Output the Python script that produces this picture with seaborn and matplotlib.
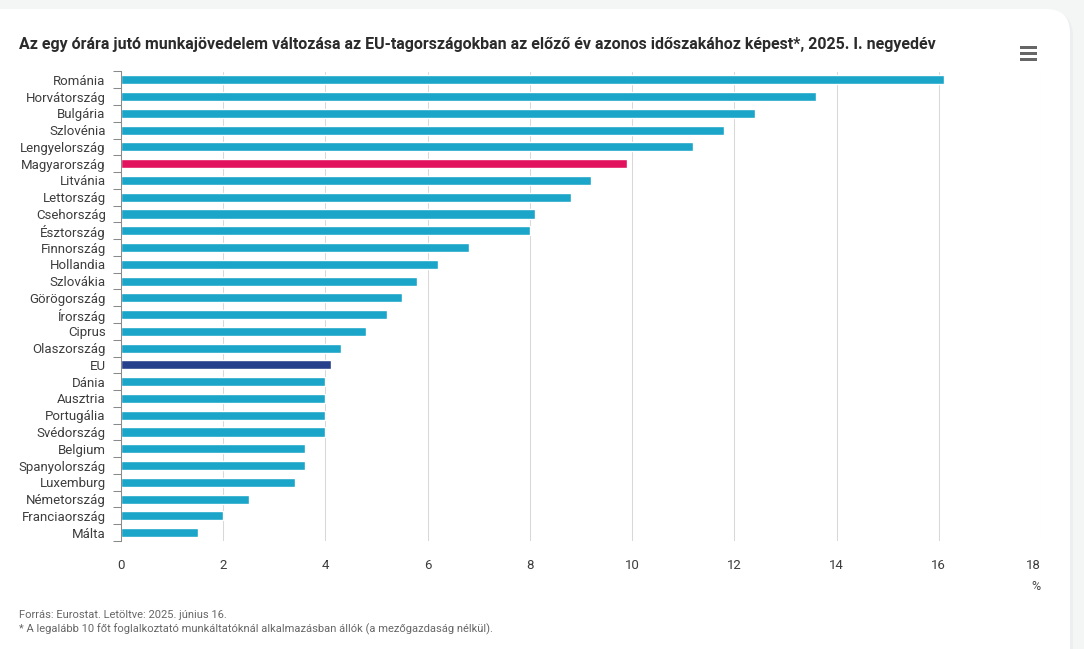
import matplotlib
matplotlib.use("Agg")
import matplotlib.pyplot as plt
import pandas as pd
import seaborn as sns
from matplotlib.patches import FancyBboxPatch, Rectangle

countries = ["Románia", "Horvátország", "Bulgária", "Szlovénia", "Lengyelország", "Magyarország", "Litvánia",
             "Lettország", "Csehország", "Észtország", "Finnország", "Hollandia", "Szlovákia", "Görögország",
             "Írország", "Ciprus", "Olaszország", "EU", "Dánia", "Ausztria", "Portugália", "Svédország",
             "Belgium", "Spanyolország", "Luxemburg", "Németország", "Franciaország", "Málta"]
values = [16.1, 13.6, 12.4, 11.8, 11.2, 9.9, 9.2, 8.8, 8.1, 8.0, 6.8, 6.2, 5.8, 5.5, 5.2, 4.8, 4.3, 4.1,
          4.0, 4.0, 4.0, 4.0, 3.6, 3.6, 3.4, 2.5, 2.0, 1.5]
x_ticks = [0, 2, 4, 6, 8, 10, 12, 14, 16, 18]

title = "Az egy órára jutó munkajövedelem változása az EU-tagországokban az előző év azonos időszakához képest*, 2025. I. negyedév"
source = "Forrás: Eurostat. Letöltve: 2025. június 16."
note = "* A legalább 10 főt foglalkoztató munkáltatóknál alkalmazásban állók (a mezőgazdaság nélkül)."

W, H = 1084, 649
sns.set_theme(style="white")
plt.rcParams["font.family"] = ["Roboto", "DejaVu Sans"]

df = pd.DataFrame({"country": countries, "value": values})
colors = {c: "#1aa5c9" for c in countries}
colors["Magyarország"] = "#e2125f"
colors["EU"] = "#27408b"

fig = plt.figure(figsize=(W / 100, H / 100), dpi=100, facecolor="#f4f5f5")

# background card, with a soft shadow on the right
bg = fig.add_axes([0, 0, 1, 1], zorder=0)
bg.set_xlim(0, W)
bg.set_ylim(H, 0)
bg.axis("off")
bg.add_patch(FancyBboxPatch((-60, 12), 1133, 720, boxstyle="round,pad=0,rounding_size=24", fc="#eceef0", ec="none"))
bg.add_patch(FancyBboxPatch((-60, 9), 1130, 720, boxstyle="round,pad=0,rounding_size=24", fc="white", ec="none"))
# menu icon
for y in (47, 53, 59):
    bg.add_patch(Rectangle((1020, y - 1.5), 17, 3, color="#666666", lw=0))

ax = fig.add_axes([121 / W, 1 - 541 / H, (1041 - 121) / W, (541 - 71.5) / H], zorder=1)
ax.patch.set_alpha(0)
sns.barplot(data=df, y="country", x="value", hue="country", palette=colors, legend=False,
            width=0.54, saturation=1, ax=ax, zorder=3)
ax.set_xlim(0, 18)
ax.set_ylim(len(countries) - 0.5, -0.5)
ax.set_xlabel("")
ax.set_ylabel("")
ax.set_xticks(x_ticks)
ax.grid(axis="x", color="#d8d8d8", lw=0.75, zorder=0)
ax.grid(axis="y", visible=False)
for s in ("top", "right", "bottom"):
    ax.spines[s].set_visible(False)
ax.spines["left"].set_color("#8a8a8a")
ax.spines["left"].set_linewidth(0.75)
ax.spines["left"].set_zorder(5)

# ticks sit on the band edges, labels in the band centres
ax.set_yticks(range(len(countries)))
ax.set_yticklabels(countries, fontsize=9.5, color="#3d3d3d")
ax.tick_params(axis="y", length=0, pad=11)
ax.set_yticks([i - 0.5 for i in range(len(countries) + 1)], minor=True)
ax.tick_params(axis="y", which="minor", left=True, length=6, width=0.75, color="#8a8a8a")
ax.tick_params(axis="x", length=0, pad=13, labelsize=9.5, labelcolor="#3d3d3d")
ax.get_xticklabels()[-1].set_ha("right")

fig.text(19 / W, 1 - 45 / H, title, fontsize=11.5, fontweight="bold", color="#2b2b2b", va="center", ha="left")
fig.text(1041 / W, 1 - 586 / H, "%", fontsize=9, color="#444444", va="center", ha="right")
fig.text(19 / W, 1 - 615.5 / H, source, fontsize=8.05, color="#666666", va="center", ha="left")
fig.text(19 / W, 1 - 629.5 / H, note, fontsize=8.05, color="#666666", va="center", ha="left")

fig.savefig("out.png", dpi=100, facecolor=fig.get_facecolor())
